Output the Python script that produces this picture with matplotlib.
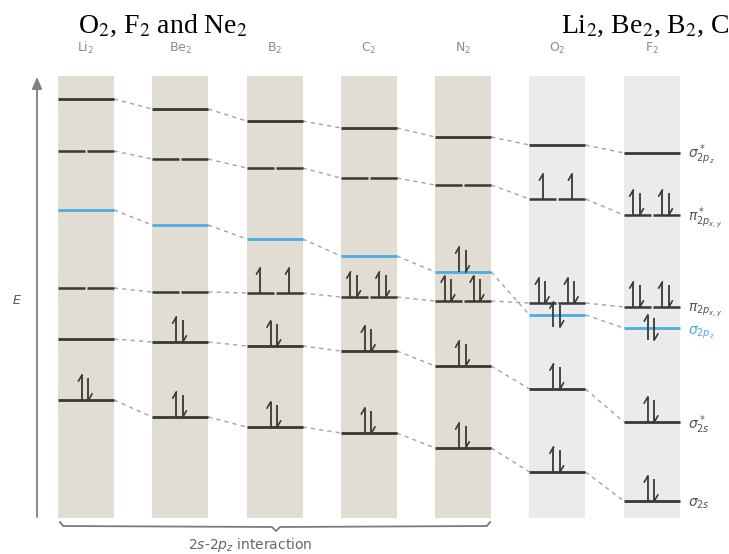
#MO energy-level diagram for the second-row homonuclear diatomics

import numpy as np
import matplotlib.pyplot as plt

plt.rcParams['mathtext.fontset'] = 'stix'

#molecules (one column each)
molecules = ['Li$_2$', 'Be$_2$', 'B$_2$', 'C$_2$', 'N$_2$', 'O$_2$', 'F$_2$']

#orbital energies (arbitrary units)
E_s2pz_star = [455, 445, 433, 426, 417, 409, 401]
E_p2p_star = [403, 395, 386, 376, 369, 355, 339]
E_s2pz = [344, 329, 315, 298, 282, 239, 226]
E_p2p = [266, 262, 261, 257, 253, 251, 247]
E_s2s_star = [215, 212, 208, 203, 188, 165, 132]
E_s2s = [154, 137, 127, 121, 106, 82, 53]

#electrons in each orbital
n_s2pz_star = [0, 0, 0, 0, 0, 0, 0]
n_p2p_star = [0, 0, 0, 0, 0, 2, 4]
n_s2pz = [0, 0, 0, 0, 2, 2, 2]
n_p2p = [0, 0, 2, 4, 4, 4, 4]
n_s2s_star = [0, 2, 2, 2, 2, 2, 2]
n_s2s = [2, 2, 2, 2, 2, 2, 2]

#orbital labels on the right
orbital_labels = [r'$\sigma^*_{2p_z}$', r'$\pi^*_{2p_{x,y}}$', r'$\pi_{2p_{x,y}}$',
                  r'$\sigma_{2p_z}$', r'$\sigma^*_{2s}$', r'$\sigma_{2s}$']

x0 = 58.      #left edge of first column
dx = 94.3     #column spacing
w = 56.       #column width
gap = 2.      #gap between degenerate segments
dark = '#3b3731'
blue = '#4aaee0'

fig = plt.figure(figsize=(7.29, 5.54), dpi=100)
ax = fig.add_axes([0, 0, 1, 1])
ax.set_xlim(0, 729)
ax.set_ylim(0, 554)
ax.axis('off')


def up_arrow(x, base, h=25):
    ax.plot([x, x], [base, base + h], color=dark, lw=1.3, solid_capstyle='butt', zorder=5)
    ax.plot([x, x - 3.5], [base + h, base + h - 6], color=dark, lw=1.2, zorder=5)


def down_arrow(x, base, h=22):
    ax.plot([x, x], [base, base + h], color=dark, lw=1.3, solid_capstyle='butt', zorder=5)
    ax.plot([x, x + 3.5], [base, base + 6], color=dark, lw=1.2, zorder=5)


def electrons(cx, base, n):
    if n == 1:
        up_arrow(cx, base)
    elif n == 2:
        up_arrow(cx - 4, base)
        down_arrow(cx + 2.5, base)


def level(i, E, n, degenerate=False, color=dark, ebase=None):
    left = x0 + i*dx
    if ebase is None:
        ebase = E
    if degenerate:
        half = (w - gap)/2.
        for k in range(2):
            l = left + k*(half + gap)
            ax.plot([l, l + half], [E, E], color=color, lw=1.8, solid_capstyle='butt', zorder=4)
            electrons(l + half/2., ebase, n//2 if n != 2 else 1)
    else:
        ax.plot([left, left + w], [E, E], color=color, lw=2.0, solid_capstyle='butt', zorder=4)
        electrons(left + w/2., ebase, n)


#background bands
for i, m in enumerate(molecules):
    left = x0 + i*dx
    fc = '#e1ddd2' if i < 5 else '#ebebee'
    ax.add_patch(plt.Rectangle((left, 36), w, 442, facecolor=fc, edgecolor='none', zorder=1))
    ax.text(left + w/2., 506, m, ha='center', va='center', fontsize=9, color='#8a8a8a',
            family='DejaVu Sans', math_fontfamily='dejavusans')

#levels and connectors
series = [(E_s2pz_star, n_s2pz_star, False, dark),
          (E_p2p_star, n_p2p_star, True, dark),
          (E_s2pz, n_s2pz, False, blue),
          (E_p2p, n_p2p, True, dark),
          (E_s2s_star, n_s2s_star, False, dark),
          (E_s2s, n_s2s, False, dark)]

for E, n, deg, c in series:
    for i in range(len(molecules)):
        eb = E[i]
        if c == blue and E[i] < E_p2p[i]:
            eb = E[i] - 12   #arrows centred on the line
        level(i, E[i], n[i], deg, c, eb)
        if i < len(molecules) - 1:
            ax.plot([x0 + i*dx + w, x0 + (i + 1)*dx], [E[i], E[i + 1]], color='#a3a3a3',
                    lw=1.0, ls=(0, (3, 3)), zorder=2)

#labels on the right
label_E = [E_s2pz_star[-1], E_p2p_star[-1], E_p2p[-1], E_s2pz[-1], E_s2s_star[-1], E_s2s[-1]]
label_shift = [-2, -3, -3, -5, -3, -3]
for lab, e, s in zip(orbital_labels, label_E, label_shift):
    col = blue if lab == r'$\sigma_{2p_z}$' else '#555555'
    ax.text(688, e + s, lab, ha='left', va='center', fontsize=10, color=col,
            math_fontfamily='dejavusans')

#energy axis
ax.annotate('', xy=(37, 477), xytext=(37, 37),
            arrowprops=dict(arrowstyle='-|>,head_length=0.7,head_width=0.3',
                            color='#7f7f7f', lw=1.3, shrinkA=0, shrinkB=0))
ax.text(17, 254, '$E$', ha='center', va='center', fontsize=9, color='#555555',
        math_fontfamily='dejavusans', weight='bold')

#bracket
bx = [60, 63, 272, 276, 280, 487, 490]
by = [32, 28, 27, 23, 27, 28, 32]
ax.plot(bx, by, color='#7a7a7a', lw=1.3)
ax.text(250, 9, r'2$s$-2$p_z$ interaction', ha='center', va='center', fontsize=10,
        color='#666666', math_fontfamily='dejavusans')

#headings
ax.text(78, 521, 'O$_2$, F$_2$ and Ne$_2$', ha='left', va='baseline', fontsize=20,
        family='Liberation Serif')
ax.text(561, 521, 'Li$_2$, Be$_2$, B$_2$, C$_2$ and N$_2$', ha='left', va='baseline',
        fontsize=20, family='Liberation Serif')

plt.savefig('out.png', dpi=100)
